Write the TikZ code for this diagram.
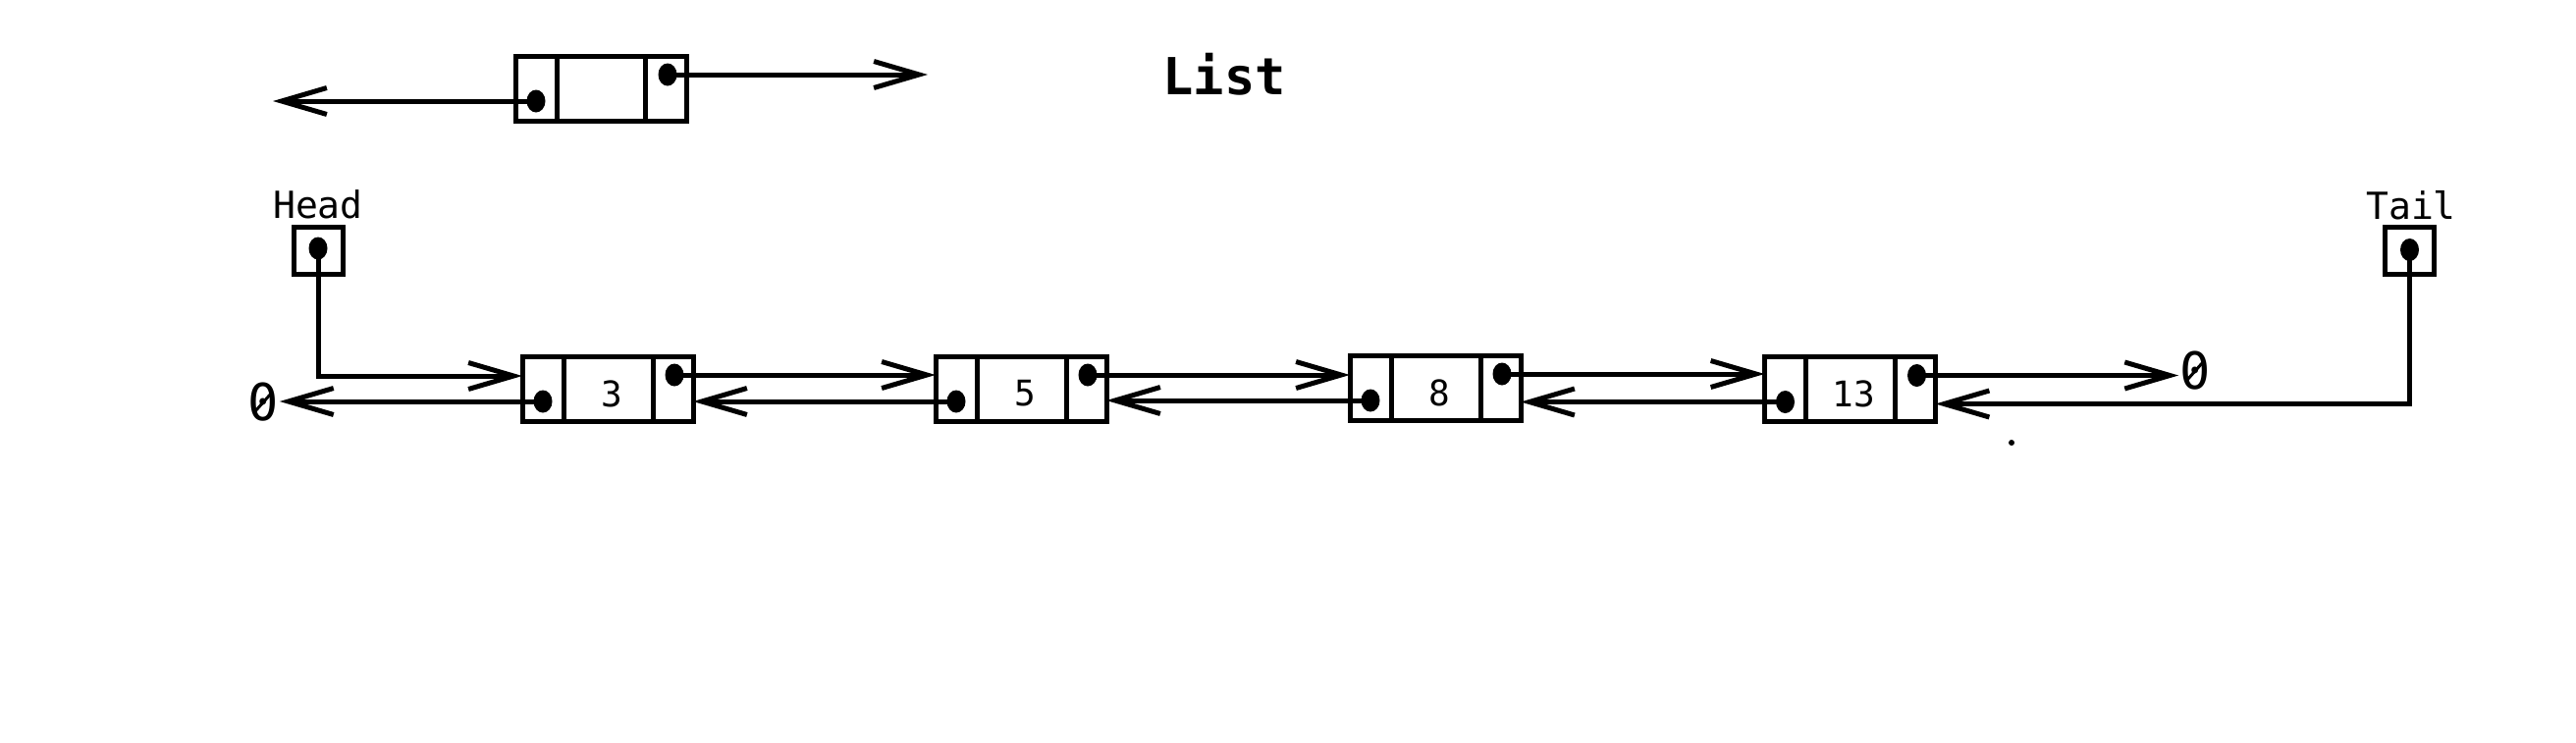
\documentclass[tikz,border=0pt]{standalone}
\usepackage{fontspec}
\newfontfamily\mono{DejaVu Sans Mono}
\usetikzlibrary{arrows.meta,calc,shapes.geometric}
\tikzset{
  cell/.style={draw, line width=5pt, minimum width=174pt, minimum height=66pt, inner sep=0pt, outer sep=0pt},
  ptrbox/.style={draw, line width=5pt, minimum width=50pt, minimum height=48pt, inner sep=0pt, outer sep=0pt},
  ptr/.style={ellipse, fill, inner sep=0pt, minimum width=19pt, minimum height=23pt},
  link/.style={line width=5pt, -{Straight Barb[length=46pt,width=27pt]}},
  divider/.style={line width=5pt},
  slash/.style={line width=3pt},
  val/.style={font=\mono\fontsize{36}{40}\selectfont},
  lbl/.style={font=\mono\fontsize{38}{42}\selectfont},
  nil/.style={font=\mono\fontsize{52}{56}\selectfont, inner sep=1pt},
}
\begin{document}
\begin{tikzpicture}[x=1pt,y=-1pt]
\useasboundingbox (0,0) rectangle (2624,756);
% legend element
\node[cell] (e) at (612,90) {};
\draw[divider] ($(e.north)+(-45,0)$) -- ($(e.south)+(-45,0)$);
\draw[divider] ($(e.north)+(45,0)$) -- ($(e.south)+(45,0)$);
\coordinate (eL) at (278,103);
\coordinate (eR) at (945,76);
\coordinate (el) at ($(e.center)+(-66,13)$);
\coordinate (er) at ($(e.center)+(68,-14)$);
\draw[link] (el) -- (eL);
\draw[link] (er) -- (eR);
\node[font=\mono\bfseries\fontsize{52}{58}\selectfont] (title) at (1247,76) {List};
% list elements
\foreach \n/\x/\y/\v in {n1/619/396/3, n2/1040/396/5, n3/1462/395/8, n4/1884.5/396.5/13}{
  \node[cell] (\n) at (\x,\y) {};
  \draw[divider] ($(\n.north)+(-45,0)$) -- ($(\n.south)+(-45,0)$);
  \draw[divider] ($(\n.north)+(46,0)$) -- ($(\n.south)+(46,0)$);
  \node[val] (\n v) at ($(\n.center)+(4,5)$) {\v};
  \coordinate (\n l) at ($(\n.center)+(-66,13)$);
  \coordinate (\n r) at ($(\n.center)+(68,-14)$);
}
% head / tail
\node[ptrbox] (hd) at (324,255) {};
\node[lbl, anchor=base] (hdl) at (324,222) {Head};
\node[ptrbox] (tl) at (2454.5,255.5) {};
\node[lbl, anchor=base] (tll) at (2456,223) {Tail};
\coordinate (hdp) at ($(hd.center)+(0,-2)$);
\coordinate (tlp) at ($(tl.center)+(0,-1)$);
% nil markers
\node[nil] (z0) at (268,410) {0};
\node[nil] (z1) at (2236,378) {0};
\draw[slash] ($(z0.center)+(-8,9)$) -- ($(z0.center)+(8,-9)$);
\draw[slash] ($(z1.center)+(-8,9)$) -- ($(z1.center)+(8,-9)$);
% links
\draw[link] (hdp) |- ($(n1.west)+(0,-13)$);
\draw[link] (n1r) -- (n1r -| n2.west);
\draw[link] (n2r) -- (n2r -| n3.west);
\draw[link] (n3r) -- (n3r -| n4.west);
\draw[link] (n4r) -- (n4r -| z1.west);
\draw[link] (n1l) -- (n1l -| z0.east);
\draw[link] (n2l) -- (n2l -| n1.east);
\draw[link] (n3l) -- (n3l -| n2.east);
\draw[link] (n4l) -- (n4l -| n3.east);
\draw[link] (tlp) |- ($(n4.east)+(0,15)$);
% pointer dots
\foreach \p in {el,er,n1l,n1r,n2l,n2r,n3l,n3r,n4l,n4r,hdp,tlp}{
  \node[ptr] at (\p) {};
}
\fill (2049,451) circle (3pt);
\end{tikzpicture}
\end{document}
